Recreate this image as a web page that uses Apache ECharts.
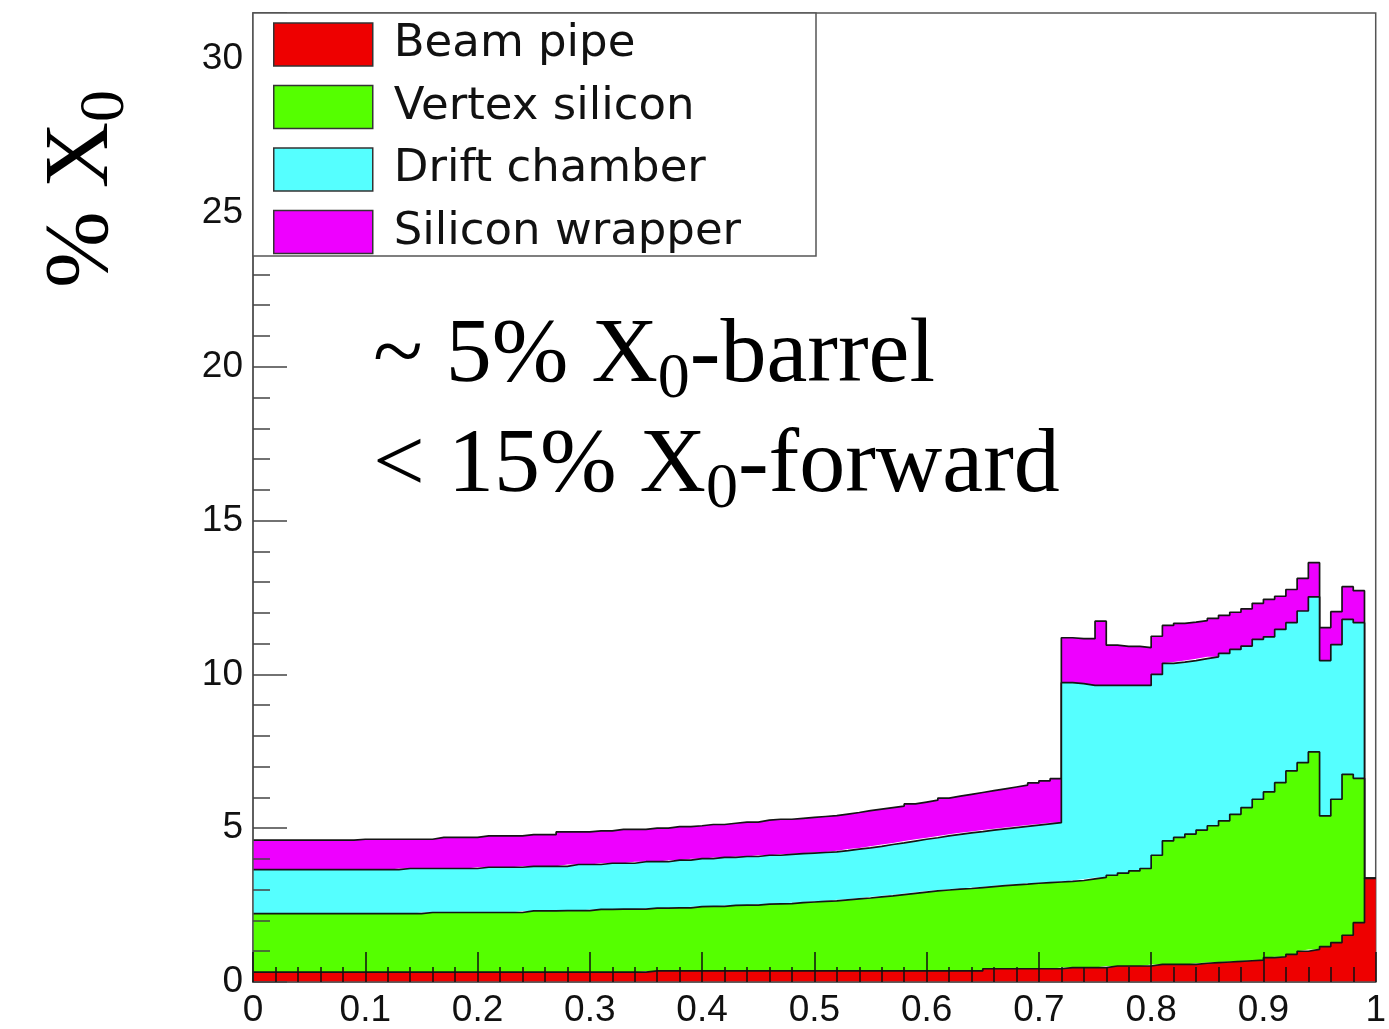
<!DOCTYPE html>
<html>
<head>
<meta charset="utf-8">
<script src="https://cdn.jsdelivr.net/npm/echarts@6.0.0/dist/echarts.min.js"></script>
<style>
  html, body { margin: 0; padding: 0; background: #ffffff; }
  #chart { width: 1389px; height: 1029px; }
</style>
</head>
<body>
<div id="chart"></div>
<script>
// Histogram binning along the horizontal axis (100 bins from 0 to 1)
const binWidth = 0.01;
const binCount = 100;

const seriesNames = ['Beam pipe', 'Vertex silicon', 'Drift chamber', 'Silicon wrapper'];
const seriesColors = ['#ee0000', '#55ff00', '#55ffff', '#ee00ff'];

// Material budget per bin, in % X0, for each stacked contribution
const beamPipe = [
  0.32, 0.32, 0.32, 0.32, 0.32, 0.32, 0.32, 0.32, 0.32, 0.32,
  0.32, 0.32, 0.32, 0.32, 0.32, 0.32, 0.32, 0.32, 0.32, 0.32,
  0.32, 0.32, 0.32, 0.32, 0.32, 0.32, 0.32, 0.32, 0.32, 0.32,
  0.32, 0.32, 0.32, 0.32, 0.32, 0.36, 0.36, 0.36, 0.36, 0.36,
  0.36, 0.36, 0.36, 0.36, 0.36, 0.36, 0.36, 0.36, 0.36, 0.36,
  0.36, 0.36, 0.36, 0.36, 0.36, 0.36, 0.36, 0.36, 0.36, 0.36,
  0.36, 0.36, 0.36, 0.36, 0.36, 0.43, 0.43, 0.43, 0.43, 0.43,
  0.43, 0.43, 0.47, 0.47, 0.47, 0.47, 0.52, 0.52, 0.52, 0.52,
  0.57, 0.57, 0.57, 0.57, 0.61, 0.63, 0.65, 0.67, 0.69, 0.71,
  0.79, 0.82, 0.90, 1.00, 1.06, 1.15, 1.28, 1.52, 1.93, 3.37
];
const vertexSilicon = [
  1.90, 1.90, 1.90, 1.90, 1.90, 1.90, 1.90, 1.90, 1.90, 1.90,
  1.90, 1.90, 1.90, 1.90, 1.90, 1.94, 1.94, 1.94, 1.94, 1.94,
  1.94, 1.94, 1.94, 1.94, 1.99, 1.99, 1.99, 2.00, 2.00, 2.00,
  2.04, 2.04, 2.05, 2.05, 2.05, 2.04, 2.04, 2.05, 2.05, 2.09,
  2.10, 2.10, 2.13, 2.14, 2.14, 2.17, 2.18, 2.19, 2.22, 2.24,
  2.26, 2.28, 2.31, 2.34, 2.37, 2.41, 2.44, 2.48, 2.52, 2.56,
  2.60, 2.63, 2.66, 2.68, 2.71, 2.67, 2.70, 2.73, 2.75, 2.78,
  2.80, 2.82, 2.80, 2.83, 2.88, 2.93, 2.95, 3.02, 3.09, 3.17,
  3.55, 4.02, 4.13, 4.24, 4.33, 4.45, 4.59, 4.78, 4.98, 5.23,
  5.39, 5.66, 5.96, 6.13, 6.42, 4.25, 4.66, 5.23, 4.69, 0
];
const driftChamber = [
  1.43, 1.43, 1.43, 1.43, 1.43, 1.43, 1.43, 1.43, 1.43, 1.43,
  1.43, 1.43, 1.43, 1.47, 1.47, 1.43, 1.43, 1.43, 1.43, 1.43,
  1.47, 1.47, 1.47, 1.47, 1.45, 1.45, 1.45, 1.44, 1.50, 1.50,
  1.46, 1.50, 1.49, 1.49, 1.54, 1.51, 1.51, 1.55, 1.55, 1.56,
  1.55, 1.59, 1.56, 1.58, 1.58, 1.59, 1.58, 1.60, 1.59, 1.59,
  1.59, 1.59, 1.60, 1.62, 1.63, 1.64, 1.67, 1.68, 1.70, 1.72,
  1.73, 1.76, 1.78, 1.81, 1.82, 1.84, 1.85, 1.86, 1.88, 1.89,
  1.91, 1.93, 6.46, 6.40, 6.29, 6.24, 6.17, 6.10, 6.03, 5.95,
  5.88, 5.77, 5.70, 5.64, 5.57, 5.49, 5.44, 5.36, 5.25, 5.20,
  5.04, 4.98, 4.82, 4.93, 5.04, 5.05, 5.03, 5.04, 5.06, 0
];
const siliconWrapper = [
  0.96, 0.96, 0.96, 0.96, 0.96, 0.96, 0.96, 0.96, 0.96, 0.99,
  0.99, 0.99, 0.99, 0.95, 0.95, 0.95, 1.01, 1.01, 1.01, 1.01,
  1.02, 1.02, 1.02, 1.02, 1.03, 1.03, 1.03, 1.12, 1.06, 1.06,
  1.09, 1.05, 1.10, 1.10, 1.05, 1.09, 1.09, 1.09, 1.09, 1.07,
  1.11, 1.07, 1.11, 1.12, 1.12, 1.14, 1.17, 1.14, 1.15, 1.16,
  1.17, 1.18, 1.19, 1.19, 1.21, 1.21, 1.20, 1.20, 1.21, 1.21,
  1.22, 1.23, 1.24, 1.25, 1.27, 1.28, 1.30, 1.32, 1.34, 1.37,
  1.40, 1.43, 1.46, 1.46, 1.52, 2.09, 1.31, 1.27, 1.27, 1.23,
  1.24, 1.23, 1.26, 1.25, 1.24, 1.25, 1.24, 1.21, 1.21, 1.17,
  1.22, 1.08, 1.08, 1.06, 1.11, 1.07, 1.07, 1.06, 1.04, 0
];

const layers = [beamPipe, vertexSilicon, driftChamber, siliconWrapper];

// Each bin is drawn as a step from its low edge; the closing point at x = 1 repeats the last bin.
// Rows are [value, binEdge] so that the stack is applied to the value dimension.
function toSteps(values) {
  const rows = [];
  for (let i = 0; i <= binCount; i++) {
    rows.push([values[Math.min(i, binCount - 1)], +(i * binWidth).toFixed(2)]);
  }
  return rows;
}

const series = layers.map((values, k) => ({
  type: 'line',
  name: seriesNames[k],
  stack: 'material',
  step: 'end',
  symbol: 'none',
  showSymbol: false,
  silent: true,
  z: 10 - k,
  dimensions: ['x0', 'edge'],
  encode: { x: 1, y: 0 },
  data: toSteps(values),
  lineStyle: { color: '#151515', width: 1.7 },
  areaStyle: { color: seriesColors[k], opacity: 1 },
  itemStyle: { color: seriesColors[k] },
  emphasis: { disabled: true }
}));

const serifRich = {
  m: { fontFamily: 'Liberation Serif', fontSize: 92, lineHeight: 110, fill: '#000' },
  s: { fontFamily: 'Liberation Serif', fontSize: 64, lineHeight: 64, padding: [46, 0, 0, 0], fill: '#000' }
};

const chart = echarts.init(document.getElementById('chart'), null, { renderer: 'canvas' });
chart.setOption({
  animation: false,
  backgroundColor: '#ffffff',
  grid: {
    left: 253, right: 9, top: 13, bottom: 46,
    show: true, borderColor: '#555', borderWidth: 1.5, backgroundColor: 'transparent'
  },
  xAxis: {
    type: 'value', min: 0, max: 1, interval: 0.1, z: 20,
    axisLine: { show: true, onZero: false, lineStyle: { color: '#555', width: 1.5 } },
    axisTick: { show: true, inside: true, length: 30, lineStyle: { color: '#111', width: 1.5 } },
    minorTick: { show: true, splitNumber: 5, length: 15, lineStyle: { color: '#111', width: 1.5 } },
    splitLine: { show: false },
    axisLabel: { margin: 10, fontFamily: 'Liberation Sans', fontSize: 37, color: '#111' }
  },
  yAxis: {
    type: 'value', min: 0, max: 31.5, interval: 5, z: 20,
    axisLine: { show: true, onZero: false, lineStyle: { color: '#555', width: 1.5 } },
    axisTick: { show: true, inside: true, length: 34, lineStyle: { color: '#444', width: 1.5 } },
    minorTick: { show: true, splitNumber: 5, length: 17, lineStyle: { color: '#444', width: 1.5 } },
    splitLine: { show: false },
    axisLabel: { margin: 10, fontFamily: 'Liberation Sans', fontSize: 37, color: '#111', showMaxLabel: false }
  },
  legend: {
    show: true, orient: 'vertical', left: 273, top: 22, padding: 0, z: 31,
    icon: 'rect', itemWidth: 99, itemHeight: 43, itemGap: 17.5, selectedMode: false,
    itemStyle: { borderColor: '#333', borderWidth: 1.5 },
    textStyle: { fontFamily: 'DejaVu Sans', fontSize: 45, lineHeight: 43, color: '#111', padding: [0, 0, 0, 16] },
    data: seriesNames.map((n, k) => ({ name: n, itemStyle: { color: seriesColors[k] } }))
  },
  graphic: {
    elements: [
      {
        type: 'rect', z: 30, silent: true,
        shape: { x: 253, y: 13, width: 563, height: 243 },
        style: { fill: '#ffffff', stroke: '#555', lineWidth: 1.5 }
      },
      {
        type: 'text', z: 32, silent: true, x: 373, y: 302,
        style: {
          text: '{m|~ 5% X}{s|0}{m|-barrel}\n{m|< 15% X}{s|0}{m|-forward}',
          rich: serifRich, fill: '#000', align: 'left', verticalAlign: 'top'
        }
      },
      {
        type: 'text', z: 32, silent: true, x: 28, y: 288, rotation: Math.PI / 2,
        style: {
          text: '{m|% X}{s|0}',
          rich: serifRich, fill: '#000', align: 'left', verticalAlign: 'top'
        }
      }
    ]
  },
  series: series
});
</script>
</body>
</html>
